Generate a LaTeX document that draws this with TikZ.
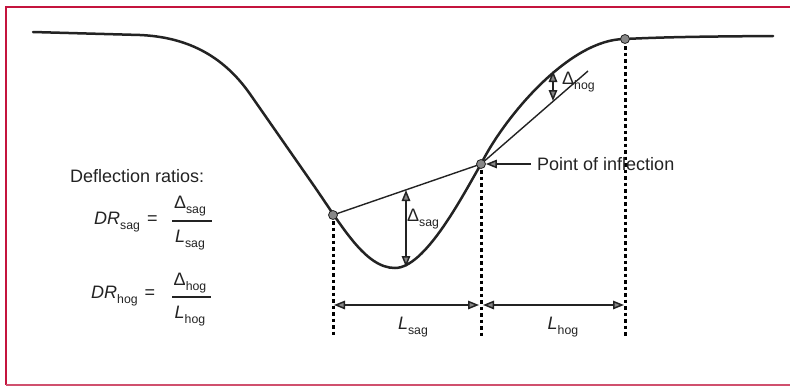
\documentclass[tikz,border=0pt]{standalone}
\usepackage{fontspec}
\setmainfont{Liberation Sans}
\usetikzlibrary{arrows.meta}
\definecolor{framehi}{RGB}{196,20,62}
\definecolor{framelo}{RGB}{208,80,110}
\definecolor{ink}{RGB}{35,35,35}
\definecolor{tipgray}{RGB}{135,135,135}
\newcommand\sbs[1]{\raisebox{-0.45ex}{\fontsize{12.3}{12}\selectfont #1}}
\begin{document}
\begin{tikzpicture}[x=1pt,y=-1pt,
  lbl/.style={font=\fontsize{18}{20}\selectfont, text=ink, inner sep=0pt},
  curve/.style={line width=2.5pt, draw=ink, line join=round, line cap=round},
  chord/.style={line width=1.4pt, draw=ink},
  dotn/.style={circle, fill=tipgray, draw=ink, line width=0.8pt, inner sep=0pt, minimum size=9pt},
  tip/.style={-{Triangle[length=11pt,width=8.5pt,fill=tipgray]}, line width=1.5pt, draw=ink},
  dbl/.style={{Triangle[length=11pt,width=8.5pt,fill=tipgray]}-{Triangle[length=11pt,width=8.5pt,fill=tipgray]}, line width=1.5pt, draw=ink},
  guide/.style={draw=black, line width=3pt, dash pattern=on 3.5pt off 3pt}
]
\useasboundingbox (0,0) rectangle (790,386);
\fill[white] (0,0) rectangle (790,386);
% frame
\draw[framehi, line width=2.6pt] (790,7) -- (6,7) -- (6,385);
\draw[framelo, line width=1.6pt] (6,385) -- (790,385);
% settlement trough
\draw[curve] (33,32) -- (140,35)
  .. controls (185,37) and (222,54) .. (250,94)
  -- (312,183)
  .. controls (342,226) and (365,268) .. (395,268)
  .. controls (425,268) and (462,197) .. (481,164)
  .. controls (505,116) and (570,39) .. (625,39)
  .. controls (665,37) and (705,36.5) .. (773,36);
% coordinates
\coordinate (sagB) at (333,338);
\coordinate (infB) at (481,338);
\coordinate (hogB) at (625,338);
\coordinate (hogEnd) at (588,71);
\coordinate (dl1) at (334,305);
\coordinate (dl2) at (479,305);
\coordinate (dr1) at (483,305);
\coordinate (dr2) at (624,305);
\coordinate (dsT) at (406,190);
\coordinate (dsB) at (406,267);
\coordinate (dhT) at (553,71);
\coordinate (dhB) at (553,101);
% chords
\draw[chord] (333,215) -- (481,164);
\draw[chord] (481,164) -- (hogEnd);
% guides
\draw[guide] (333,221) -- (sagB);
\draw[guide] (481,170) -- (infB);
\draw[guide] (625,46) -- (hogB);
% dots
\node[dotn] (sag) at (333,215) {};
\node[dotn] (inf) at (481,164) {};
\node[dotn] (hog) at (625,39) {};
% dimension arrows
\draw[dbl] (dl1) -- (dl2);
\draw[dbl] (dr1) -- (dr2);
\draw[dbl] (dsT) -- (dsB);
\draw[dbl] (dhT) -- (dhB);
% labels
\node[lbl, anchor=west] (dsl) at (407,219) {Δ\sbs{sag}};
\node[lbl, anchor=west] (dhl) at (562,82) {Δ\sbs{hog}};
\node[lbl] (lsag) at (413,327) {\textit{L}\sbs{sag}};
\node[lbl] (lhog) at (563,327) {\textit{L}\sbs{hog}};
\node[lbl, anchor=west] (poi) at (537,164) {Point of inflection};
\draw[tip] ([xshift=-6pt]poi.west) -- (inf.east);
% formulas
\node[lbl, anchor=west] (title) at (70,176) {Deflection ratios:};
\node[lbl, anchor=west] (drsag) at (94,222) {\textit{DR}\sbs{sag}\hspace{7pt}=};
\node[lbl] (nsag) at (190,206) {Δ\sbs{sag}};
\node[lbl] (dsag) at (190,240) {\textit{L}\sbs{sag}};
\coordinate (bs1) at (172,221);
\coordinate (bs2) at (212,221);
\draw[ink, line width=1.2pt] (bs1) -- (bs2);
\node[lbl, anchor=west] (drhog) at (91,296) {\textit{DR}\sbs{hog}\hspace{7pt}=};
\node[lbl] (nhog) at (190,283) {Δ\sbs{hog}};
\node[lbl] (dhog) at (190,316) {\textit{L}\sbs{hog}};
\coordinate (bh1) at (172,297);
\coordinate (bh2) at (211,297);
\draw[ink, line width=1.2pt] (bh1) -- (bh2);
\end{tikzpicture}
\end{document}
